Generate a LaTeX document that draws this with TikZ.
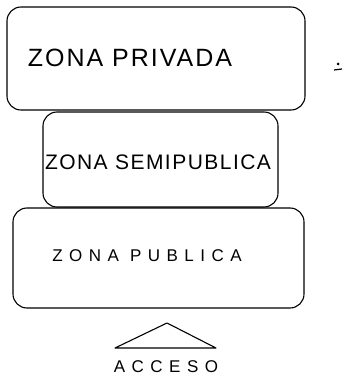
\documentclass[tikz,border=0pt]{standalone}
\usepackage{fontspec}
\setmainfont{Liberation Sans}
\usepackage{tikz}

\tikzset{
  zone/.style={draw,line width=1.1pt,rounded corners=14pt,inner sep=0pt},
  zonetext/.style={inner sep=0pt,anchor=center}
}

\begin{document}
\begin{tikzpicture}[x=1pt,y=-1pt]
  \useasboundingbox (0,0) rectangle (343,377);
  % the three zones, stacked
  \node[zone,minimum width=298pt,minimum height=103pt] (privada) at (156,58.5) {};
  \node[zone,minimum width=235pt,minimum height=95pt]  (semi)    at (160.5,159.5) {};
  \node[zone,minimum width=291pt,minimum height=100pt] (publica) at (158.5,258) {};
  \node[zonetext,font=\fontsize{25}{25}\selectfont\addfontfeature{LetterSpace=8}]
    (tprivada) at (130,58) {ZONA PRIVADA};
  \node[zonetext,font=\fontsize{21}{21}\selectfont\addfontfeature{LetterSpace=7}]
    (tsemi) at (158,162) {ZONA SEMIPUBLICA};
  \node[zonetext,font=\fontsize{17}{17}\selectfont\addfontfeature{LetterSpace=38}]
    (tpublica) at (147,256) {ZONA PUBLICA};
  % access sign
  \node[zonetext,font=\fontsize{17}{17}\selectfont\addfontfeature{LetterSpace=38}]
    (acceso) at (166,367) {ACCESO};
  \coordinate (apex) at (167,323);
  \draw[line width=1.1pt,line join=round] (apex) -- (216,348) -- (115,348) -- cycle;
  % stray mark at right
  \fill (338,64) circle (1.5pt);
  \draw[line width=1.2pt] (334,70) -- (342,69);
\end{tikzpicture}
\end{document}
